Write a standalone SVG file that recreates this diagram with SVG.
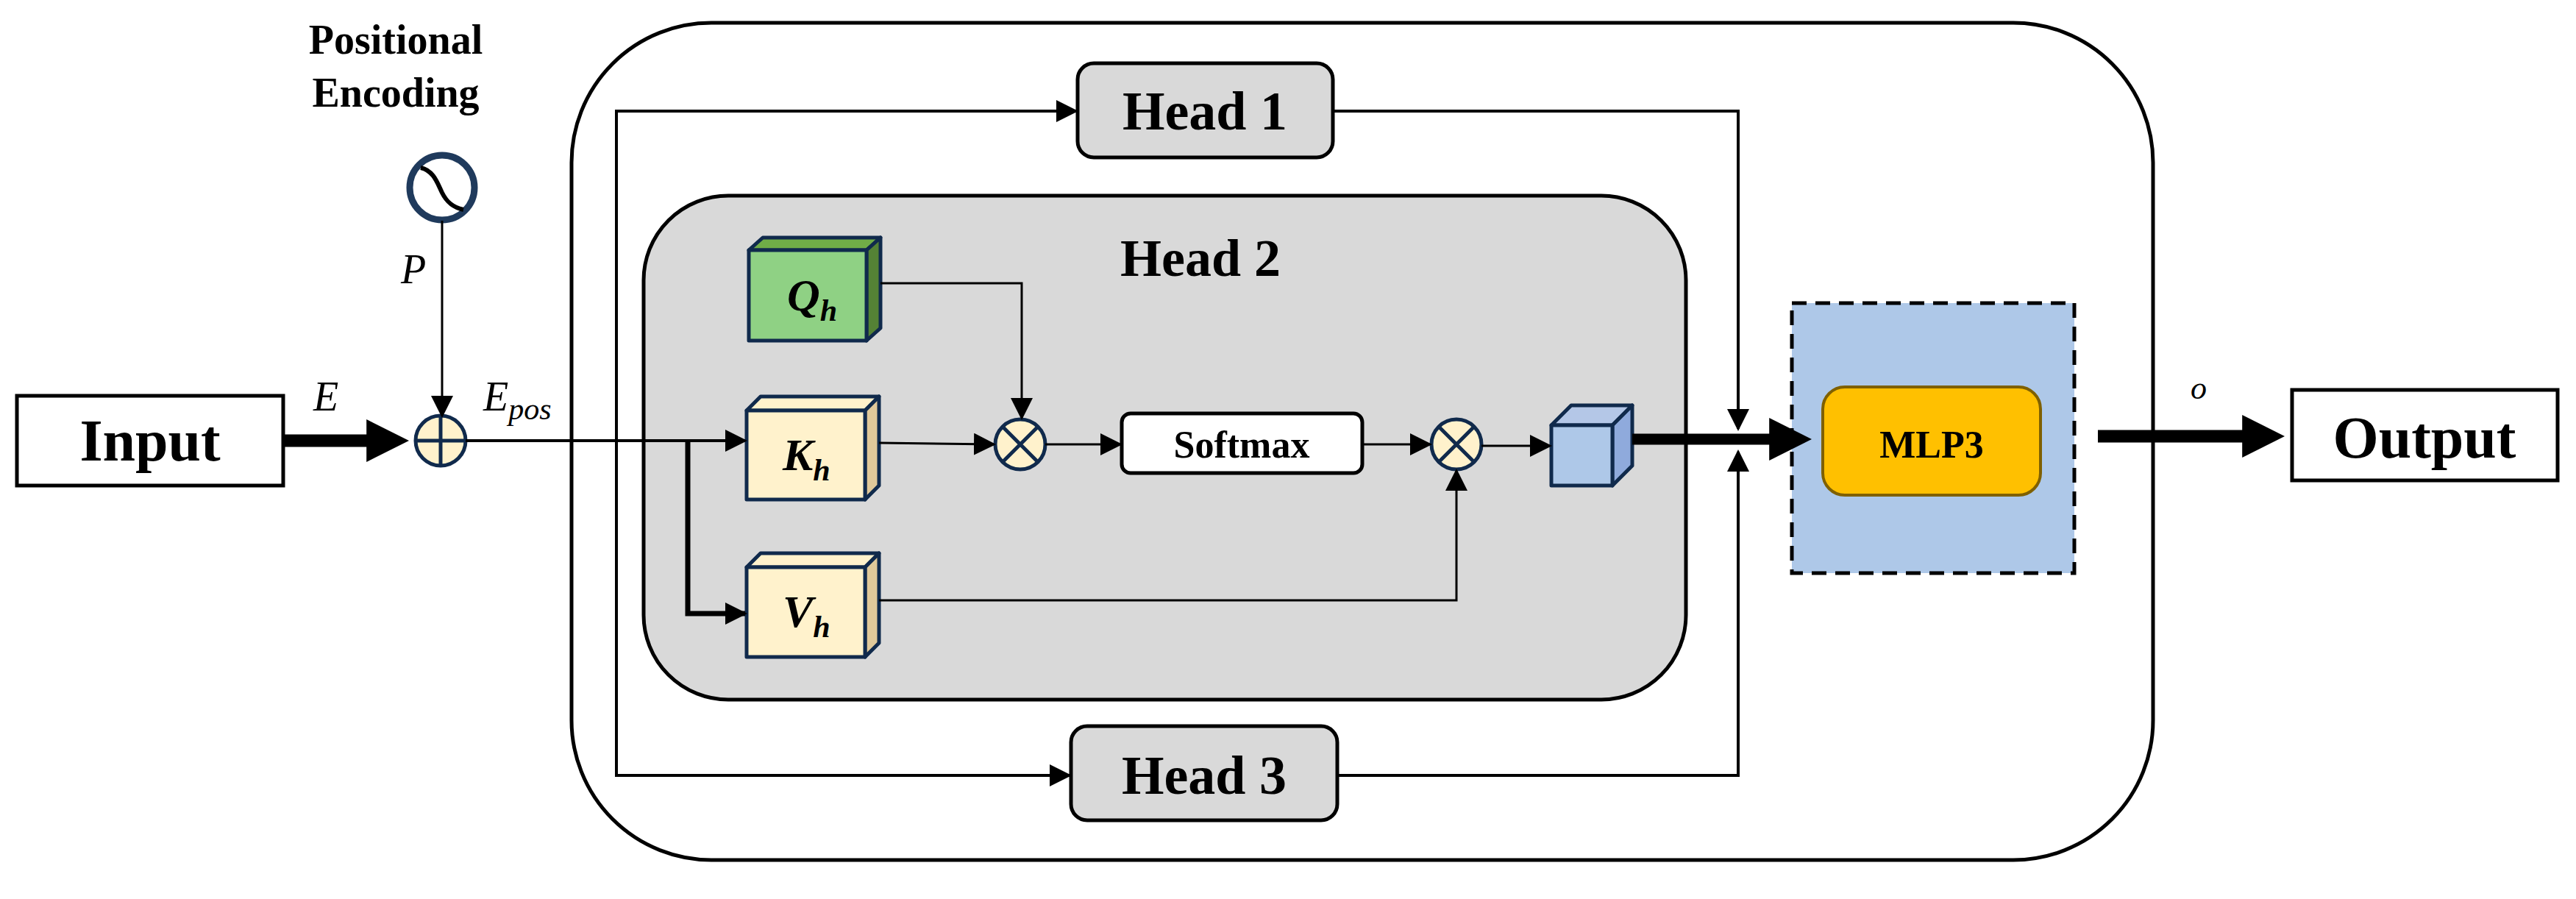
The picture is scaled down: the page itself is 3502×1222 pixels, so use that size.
<svg xmlns="http://www.w3.org/2000/svg" width="3502" height="1222" viewBox="0 0 3502 1222">
<style>
.b{font-family:"Liberation Serif",serif;font-weight:bold;fill:#000;text-anchor:middle}
.m{font-family:"Liberation Serif",serif;font-style:italic;fill:#000}
.cube{stroke:#102a4c;stroke-width:5;stroke-linejoin:round}
.ln{fill:none;stroke:#000;stroke-width:4}
.op{stroke:#102a4c;stroke-width:5;fill:#fff2cc}
</style>
<defs>
<marker id="ab" viewBox="0 0 10 10" refX="1" refY="5" markerWidth="58" markerHeight="58" orient="auto" markerUnits="userSpaceOnUse"><path d="M0,0L10,5L0,10z"/></marker>
<marker id="am" viewBox="0 0 10 10" refX="9" refY="5" markerWidth="30" markerHeight="30" orient="auto" markerUnits="userSpaceOnUse"><path d="M0,0L10,5L0,10z"/></marker>
</defs>
<rect width="3502" height="1222" fill="#fff"/>
<g id="outer"><rect x="777" y="31" width="2150" height="1138" rx="190" fill="none" stroke="#000" stroke-width="5"/></g>
<g id="head2"><rect x="875" y="266" width="1417" height="685" rx="115" fill="#d9d9d9" stroke="#000" stroke-width="5"/>
<text class="b" x="1632" y="375" font-size="72">Head 2</text></g>
<g id="input"><rect x="23" y="538" width="362" height="122" fill="#fff" stroke="#000" stroke-width="5"/><text class="b" x="204" y="626" font-size="80">Input</text></g>
<g id="pe"><text class="b" x="538" y="73" font-size="56">Positional</text><text class="b" x="538" y="145" font-size="56">Encoding</text>
<circle cx="601" cy="255" r="44" fill="#fff" stroke="#1f3a5c" stroke-width="9"/>
<path d="M572,228 C590,232 595,250 601,262 C607,274 615,282 630,285" fill="none" stroke="#000" stroke-width="6"/></g>
<g id="plus"><circle cx="599" cy="599" r="34" class="op"/><path d="M565,599H633M599,565V633" stroke="#102a4c" stroke-width="5"/></g>
<g id="head1"><rect x="1465" y="86" width="347" height="128" rx="22" fill="#d9d9d9" stroke="#000" stroke-width="5"/><text class="b" x="1638" y="176" font-size="74">Head 1</text></g>
<g id="head3"><rect x="1456" y="987" width="362" height="128" rx="22" fill="#d9d9d9" stroke="#000" stroke-width="5"/><text class="b" x="1637" y="1079" font-size="74">Head 3</text></g>
<g id="Q"><path class="cube" d="M1018,340L1037,323H1197L1178,340z" fill="#70ad47"/><path class="cube" d="M1178,340L1197,323V446L1178,463z" fill="#548235"/><rect class="cube" x="1018" y="340" width="160" height="123" fill="#8fd184"/><text class="m" x="1070" y="422" font-size="62" font-weight="bold">Q<tspan font-size="42" dy="14">h</tspan></text></g>
<g id="K"><path class="cube" d="M1015,558L1034,539H1195L1176,558z" fill="#fff2cc"/><path class="cube" d="M1176,558L1195,539V660L1176,679z" fill="#e0c99a"/><rect class="cube" x="1015" y="558" width="161" height="121" fill="#fff2cc"/><text class="m" x="1064" y="639" font-size="62" font-weight="bold">K<tspan font-size="42" dy="14">h</tspan></text></g>
<g id="V"><path class="cube" d="M1015,771L1034,752H1195L1176,771z" fill="#fff2cc"/><path class="cube" d="M1176,771L1195,752V874L1176,893z" fill="#e0c99a"/><rect class="cube" x="1015" y="771" width="161" height="122" fill="#fff2cc"/><text class="m" x="1064" y="852" font-size="62" font-weight="bold">V<tspan font-size="42" dy="14">h</tspan></text></g>
<g id="mul1"><circle cx="1387" cy="604" r="34" class="op"/><path d="M1363,580L1411,628M1411,580L1363,628" stroke="#102a4c" stroke-width="5"/></g>
<g id="mul2"><circle cx="1980" cy="604" r="34" class="op"/><path d="M1956,580L2004,628M2004,580L1956,628" stroke="#102a4c" stroke-width="5"/></g>
<g id="softmax"><rect x="1525" y="562" width="327" height="81" rx="12" fill="#fff" stroke="#000" stroke-width="5"/><text class="b" x="1688" y="622" font-size="52">Softmax</text></g>
<g id="out3"><path class="cube" d="M2109,578L2136,551H2219L2192,578z" fill="#b4c7e7"/><path class="cube" d="M2192,578L2219,551V633L2192,660z" fill="#8faadc"/><rect class="cube" x="2109" y="578" width="83" height="82" fill="#aec8e8"/></g>
<g id="mlpbox"><rect x="2436" y="412" width="384" height="367" fill="#aec8e8" stroke="#000" stroke-width="5" stroke-dasharray="20,12"/></g>
<g id="mlp3"><rect x="2478" y="526" width="296" height="147" rx="30" fill="#ffc000" stroke="#7f6000" stroke-width="4"/><text class="b" x="2626" y="622" font-size="52">MLP3</text></g>
<g id="output"><rect x="3116" y="530" width="361" height="123" fill="#fff" stroke="#000" stroke-width="5"/><text class="b" x="3296" y="622" font-size="80">Output</text></g>
<g id="labels">
<text class="m" x="426" y="558" font-size="56">E</text>
<text class="m" x="545" y="385" font-size="56">P</text>
<text class="m" x="657" y="558" font-size="56">E<tspan font-size="42" dy="12">pos</tspan></text>
<text class="m" x="2978" y="542" font-size="44">o</text>
</g>
<g id="connectors">
<path d="M385,599H504" stroke="#000" stroke-width="17" marker-end="url(#ab)"/>
<path d="M601,300V565" stroke="#000" stroke-width="3" fill="none" marker-end="url(#am)"/>
<path d="M633,599H1013" class="ln" marker-end="url(#am)"/>
<path d="M935,599V834H1013" stroke="#000" stroke-width="7" fill="none" marker-end="url(#am)"/>
<path d="M838,599V151H1463" class="ln" marker-end="url(#am)"/>
<path d="M838,599V1054H1454" class="ln" marker-end="url(#am)"/>
<path d="M1812,151H2363V583" class="ln" marker-end="url(#am)"/>
<path d="M1818,1054H2363V614" class="ln" marker-end="url(#am)"/>
<path d="M1197,385H1389V568" stroke="#000" stroke-width="3" fill="none" marker-end="url(#am)"/>
<path d="M1195,602L1351,604" stroke="#000" stroke-width="3" fill="none" marker-end="url(#am)"/>
<path d="M1421,604H1523" stroke="#000" stroke-width="3" fill="none" marker-end="url(#am)"/>
<path d="M1852,604H1944" stroke="#000" stroke-width="3" fill="none" marker-end="url(#am)"/>
<path d="M1195,816H1980V640" stroke="#000" stroke-width="3" fill="none" marker-end="url(#am)"/>
<path d="M2014,606H2107" stroke="#000" stroke-width="3" fill="none" marker-end="url(#am)"/>
<path d="M2219,597H2411" stroke="#000" stroke-width="15" marker-end="url(#ab)"/>
<path d="M2852,593H3054" stroke="#000" stroke-width="17" marker-end="url(#ab)"/>
</g>
</svg>
